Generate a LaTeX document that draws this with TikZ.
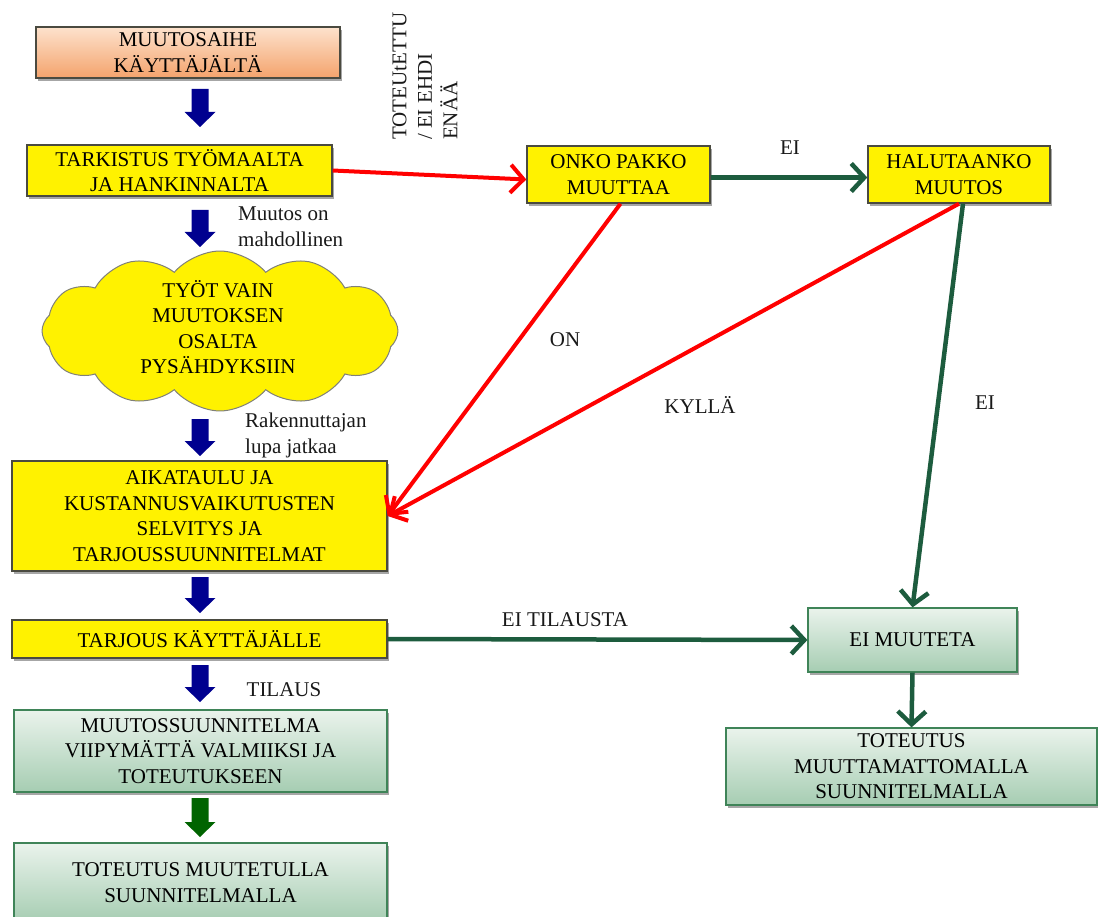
\documentclass[tikz,border=0pt]{standalone}
\usepackage{fontspec}
\setmainfont{Liberation Serif}
\newfontfamily\tnr{Liberation Serif}
\usetikzlibrary{arrows.meta,shapes.symbols,shadows,calc}
\definecolor{ygray}{HTML}{4A4A40}
\definecolor{otop}{HTML}{FDE2CD}
\definecolor{obot}{HTML}{F4A36C}
\definecolor{gtop}{HTML}{EAF3EC}
\definecolor{gbot}{HTML}{A6CDB2}
\definecolor{gborder}{HTML}{3F8458}
\definecolor{navyarr}{HTML}{00008F}
\definecolor{greenarr}{HTML}{006400}
\definecolor{dgreen}{HTML}{1D5C3E}
\newcommand\blockarr[4]{\fill[#4] (#1-8.5,#2) -- (#1+8.5,#2) -- (#1+8.5,#3-15) -- (#1+15.5,#3-15) -- (#1,#3) -- (#1-15.5,#3-15) -- (#1-8.5,#3-15) -- cycle;}
\begin{document}
\begin{tikzpicture}[x=1pt,y=-1pt,
  font=\tnr\fontsize{21}{25.5}\selectfont,
  every node/.append style={font=\tnr\fontsize{21}{25.5}\selectfont},
  shad/.style={drop shadow={shadow xshift=2pt,shadow yshift=-3pt,opacity=0.35,fill=black}},
  ybox/.style={draw=ygray,line width=1.4pt,fill=yellow,align=center,inner sep=0pt,shad},
  obox/.style={draw=ygray,line width=1.4pt,top color=otop,bottom color=obot,align=center,inner sep=0pt,shad},
  gbox/.style={draw=gborder,line width=1.2pt,top color=gtop,bottom color=gbot,align=center,inner sep=0pt,shad},
  redarr/.style={draw=red,line width=4pt,-{Straight Barb[length=13pt,width=28pt]}},
  grnarr/.style={draw=dgreen,line width=4.5pt,-{Straight Barb[length=13pt,width=28pt]}},
  lbl/.style={inner sep=0pt,text=black!90}
]
\useasboundingbox (0,0) rectangle (1098,917);

% left column
\node[obox,minimum width=304pt,minimum height=51pt] (b1) at (188,52.5) {MUUTOSAIHE\\KÄYTTÄJÄLTÄ};
\node[ybox,minimum width=305pt,minimum height=51pt] (b2) at (179.5,170.5) {TARKISTUS TYÖMAALTA\\JA HANKINNALTA};
\node[cloud,cloud puffs=12,cloud puff arc=100,cloud ignores aspect,draw=ygray!70,line width=1pt,fill=yellow,minimum width=356pt,minimum height=160pt,inner sep=0pt] (cl) at (220,331) {};
\node[align=center,inner sep=0pt] (clt) at (218,327) {TYÖT VAIN\\MUUTOKSEN\\OSALTA\\PYSÄHDYKSIIN};
\node[ybox,minimum width=375pt,minimum height=110pt] (b3) at (199.5,516) {AIKATAULU JA\\KUSTANNUSVAIKUTUSTEN\\SELVITYS JA\\TARJOUSSUUNNITELMAT};
\node[ybox,minimum width=375pt,minimum height=38pt] (b4) at (199.5,639) {TARJOUS KÄYTTÄJÄLLE};
\node[gbox,minimum width=373pt,minimum height=82pt] (g1) at (200.5,751) {MUUTOSSUUNNITELMA\\VIIPYMÄTTÄ VALMIIKSI JA\\TOTEUTUKSEEN};
\node[gbox,minimum width=373pt,minimum height=79pt] (g2) at (200.5,882.5) {TOTEUTUS MUUTETULLA\\SUUNNITELMALLA};

% right side
\node[ybox,minimum width=183pt,minimum height=57pt] (onko) at (618.5,174.5) {ONKO PAKKO\\MUUTTAA};
\node[ybox,minimum width=182pt,minimum height=57pt] (halu) at (959,174.5) {HALUTAANKO\\MUUTOS};
\node[gbox,minimum width=209pt,minimum height=64pt] (eim) at (912.5,640) {EI MUUTETA};
\node[gbox,minimum width=371pt,minimum height=77pt] (tot) at (911.5,766.5) {TOTEUTUS\\MUUTTAMATTOMALLA\\SUUNNITELMALLA};

% block arrows
\blockarr{200}{89}{127}{navyarr}
\blockarr{200}{210}{247}{navyarr}
\blockarr{200}{419}{456}{navyarr}
\blockarr{200}{577}{613}{navyarr}
\blockarr{200}{665}{702}{navyarr}
\blockarr{200}{798}{837}{greenarr}

% labels
\node[lbl,anchor=west,align=left] (l1) at (238,226.5) {Muutos on\\mahdollinen};
\node[lbl,anchor=west,align=left] (l2) at (245,435.5) {Rakennuttajan\\lupa jatkaa};
\node[lbl] (l3) at (284,690) {TILAUS};
\node[lbl,rotate=90,align=left] (l4) at (425,76) {TOTEUtETTU\\/ EI EHDI\\ENÄÄ};
\node[lbl] (l5) at (790,148) {EI};
\node[lbl] (l6) at (565,340) {ON};
\node[lbl] (l7) at (700,405) {KYLLÄ};
\node[lbl] (l8) at (985,403) {EI};
\node[lbl] (l9) at (565,620) {EI TILAUSTA};

% connectors
\draw[redarr] (b2.east) -- ($(onko.west)+(0,5)$);
\draw[grnarr] ($(onko.east)+(0,3)$) -- ($(halu.west)+(0,3)$);
\draw[redarr] ($(onko.south)+(2,0)$) -- (b3.east);
\draw[redarr] (halu.south) -- (b3.east);
\draw[grnarr] ($(halu.south)+(4,0)$) -- (eim.north);
\draw[grnarr] (b4.east) -- (eim.west);
\draw[grnarr] (eim.south) -- (tot.north);
\end{tikzpicture}
\end{document}
